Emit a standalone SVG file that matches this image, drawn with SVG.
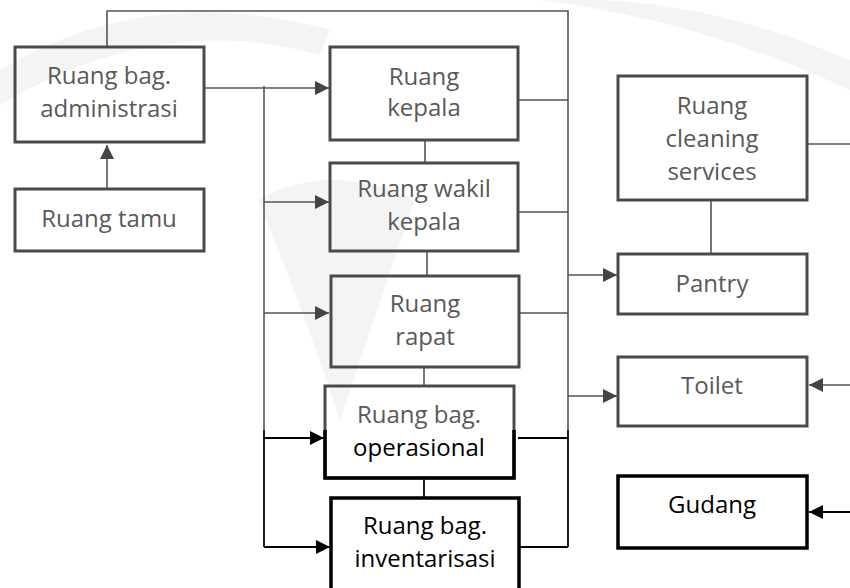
<svg xmlns="http://www.w3.org/2000/svg" width="850" height="588" viewBox="0 0 850 588">
<defs>
<style>
.box{fill:none;stroke:#4a4a4a;stroke-width:3}
.boxk{fill:none;stroke:#000;stroke-width:3.5}
.c{fill:none;stroke:#555;stroke-width:1.6}
.ck{fill:none;stroke:#000;stroke-width:1.8}
.t{font-family:"Open Sans","Noto Sans",sans-serif;font-size:24px;fill:#595959;text-anchor:middle}
.tk{fill:#000}
.wm{fill:#f4f4f4}
</style>
<marker id="ag" markerUnits="userSpaceOnUse" markerWidth="16" markerHeight="14" refX="14" refY="7" orient="auto">
<path d="M0,0 L14,7 L0,14 Z" fill="#444"/>
</marker>
<marker id="ak" markerUnits="userSpaceOnUse" markerWidth="16" markerHeight="14" refX="14" refY="7" orient="auto">
<path d="M0,0 L14,7 L0,14 Z" fill="#000"/>
</marker>
<clipPath id="lowclip"><rect x="0" y="430" width="850" height="158"/></clipPath>
</defs>
<rect width="850" height="588" fill="#fff"/>
<g id="watermark">
<path class="wm" d="M0,70 Q150,-20 330,30 L320,55 Q160,10 0,105 Z"/>
<path class="wm" d="M540,0 Q700,20 850,90 L850,60 Q720,5 600,0 Z"/>
<path class="wm" d="M258,200 Q330,160 415,200 Q380,300 340,420 Q300,300 258,200 Z"/>
</g>
<g id="connectors">
<path class="c" d="M107,188 V145" marker-end="url(#ag)"/>
<path class="c" d="M107,46 V11 H568 V430"/>
<path class="ck" d="M568,430 V547"/>
<path class="c" d="M205,88 H329" marker-end="url(#ag)"/>
<path class="c" d="M264,86 V430"/>
<path class="ck" d="M264,430 V547"/>
<path class="c" d="M264,202 H329" marker-end="url(#ag)"/>
<path class="c" d="M264,313 H329" marker-end="url(#ag)"/>
<path class="ck" d="M264,438 H324" marker-end="url(#ak)"/>
<path class="ck" d="M264,547 H330" marker-end="url(#ak)"/>
<path class="c" d="M519,100 H568"/>
<path class="c" d="M519,212 H568"/>
<path class="c" d="M519,313 H568"/>
<path class="ck" d="M518,438 H568"/>
<path class="ck" d="M519,547 H568"/>
<path class="c" d="M568,275 H617" marker-end="url(#ag)"/>
<path class="c" d="M568,396 H617" marker-end="url(#ag)"/>
<path class="c" d="M425,140 V163"/>
<path class="c" d="M427,251 V276"/>
<path class="c" d="M424,367 V386"/>
<path class="ck" d="M424,478 V498"/>
<path class="c" d="M711,200 V254"/>
<path class="c" d="M808,144 H850"/>
<path class="c" d="M850,385 H809" marker-end="url(#ag)"/>
<path class="ck" d="M850,512 H809" marker-end="url(#ak)"/>
</g>
<g id="admin">
<rect class="box" x="15" y="47" width="189" height="95"/>
<text class="t" x="109" y="84">Ruang bag.</text>
<text class="t" x="109" y="117">administrasi</text>
</g>
<g id="tamu">
<rect class="box" x="15" y="189" width="189" height="62"/>
<text class="t" x="109" y="227">Ruang tamu</text>
</g>
<g id="kepala">
<rect class="box" x="330" y="47" width="188" height="93"/>
<text class="t" x="424" y="85">Ruang</text>
<text class="t" x="424" y="116">kepala</text>
</g>
<g id="wakil">
<rect class="box" x="330" y="163" width="188" height="88"/>
<text class="t" x="424" y="197">Ruang wakil</text>
<text class="t" x="424" y="230">kepala</text>
</g>
<g id="rapat">
<rect class="box" x="331" y="276" width="188" height="91"/>
<text class="t" x="425" y="312">Ruang</text>
<text class="t" x="425" y="345">rapat</text>
</g>
<g id="operasional">
<rect class="box" x="325" y="386" width="189" height="92"/>
<rect class="boxk" x="325" y="386" width="189" height="92" clip-path="url(#lowclip)"/>
<text class="t" x="419" y="423">Ruang bag.</text>
<text class="t tk" x="419" y="456">operasional</text>
</g>
<g id="inventarisasi">
<rect class="boxk" x="331" y="498" width="188" height="100"/>
<text class="t tk" x="425" y="534">Ruang bag.</text>
<text class="t tk" x="425" y="567">inventarisasi</text>
</g>
<g id="cleaning">
<rect class="box" x="618" y="76" width="189" height="124"/>
<text class="t" x="712" y="114">Ruang</text>
<text class="t" x="712" y="147">cleaning</text>
<text class="t" x="712" y="180">services</text>
</g>
<g id="pantry">
<rect class="box" x="618" y="254" width="189" height="60"/>
<text class="t" x="712" y="292">Pantry</text>
</g>
<g id="toilet">
<rect class="box" x="618" y="357" width="189" height="69"/>
<text class="t" x="712" y="394">Toilet</text>
</g>
<g id="gudang">
<rect class="boxk" x="618" y="476" width="189" height="72"/>
<text class="t tk" x="712" y="513">Gudang</text>
</g>
</svg>
